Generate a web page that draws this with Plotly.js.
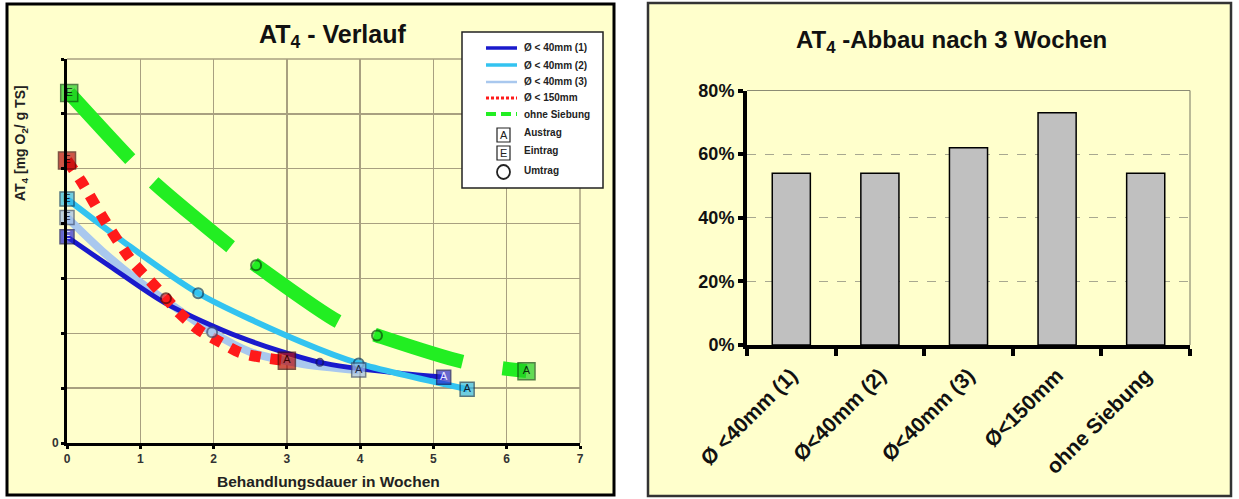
<!DOCTYPE html>
<html><head><meta charset="utf-8">
<script src="https://cdn.plot.ly/plotly-3.0.1.min.js"></script>
<style>html,body{margin:0;padding:0;background:#fff}#chart{width:1239px;height:499px}</style>
</head><body><div id="chart"></div>
<script>
// ---------- Left chart: AT4 - Verlauf (x = weeks, y = grid units) ----------
const seriesNames = ["Ø < 40mm (1)", "Ø < 40mm (2)", "Ø < 40mm (3)", "Ø < 150mm", "ohne Siebung"];

const curve1X = [0, 0.61, 1.34, 2.36, 3.45, 4.54, 5.14];
const curve1Y = [3.76, 3.2, 2.55, 1.93, 1.47, 1.27, 1.2];

const curve2X = [0, 0.75, 1.79, 3.2, 3.98, 5.46];
const curve2Y = [4.45, 3.69, 2.73, 1.84, 1.45, 0.98];

const curve3X = [0, 0.52, 0.97, 1.98, 2.5, 3.18, 3.98];
const curve3Y = [4.11, 3.45, 2.96, 2.02, 1.66, 1.45, 1.33];

const curve150X = [0, 0.19, 0.53, 0.9, 1.13, 1.35, 1.54, 1.81, 2.09, 2.36, 2.66, 3.0];
const curve150Y = [5.15, 4.78, 4.02, 3.29, 2.96, 2.64, 2.36, 2.05, 1.84, 1.65, 1.56, 1.5];

const curveOhneX = [0.03, 0.86, 1.2, 2.25, 2.58, 3.72, 4.23, 5.43, 6.27];
const curveOhneY = [6.38, 5.18, 4.73, 3.56, 3.24, 2.2, 1.96, 1.47, 1.31];

// Eintrag (E) points, order: (1), (2), (3), 150mm, ohne
const eintragX = [0, 0, 0, 0, 0.03];
const eintragY = [3.76, 4.45, 4.11, 5.15, 6.38];
// Austrag (A) points
const austragX = [5.14, 5.46, 3.98, 3.0, 6.27];
const austragY = [1.2, 0.98, 1.33, 1.5, 1.31];
// Umtrag (O) points
const umtragX = [3.45, 1.79, 3.98, 1.98, 1.35, 2.58, 4.23];
const umtragY = [1.47, 2.73, 1.45, 2.02, 2.64, 3.24, 1.96];
const umtragSeries = [0, 1, 1, 2, 3, 4, 4];

const yTickVals = [0, 1, 2, 3, 4, 5, 6, 7];
const yTickText = ["0", "", "", "", "", "", "", ""];
const xTickVals = [0, 1, 2, 3, 4, 5, 6, 7];

// ---------- Right chart: AT4 -Abbau nach 3 Wochen ----------
const barCategories = ["Ø <40mm (1)", "Ø<40mm (2)", "Ø<40mm (3)", "Ø<150mm", "ohne Siebung"];
const barValues = [0.54, 0.54, 0.62, 0.73, 0.54];
const barTickVals = [0, 0.2, 0.4, 0.6, 0.8];

// ---------- styles ----------
const lineColors = ["#1a1acc", "#33c3f0", "#a9c8ee", "#ff1a1a", "#22ee22"];
const markFill   = ["#2a2ad0", "#33b8e8", "#a0bde6", "#b81010", "#22cc22"];
const markLine   = ["#101060", "#104060", "#405070", "#4a0a0a", "#0d4d0d"];
const letterCol  = ["#e8e8ff", "#102030", "#202840", "#3a0000", "#0a300a"];
const FONT = "Liberation Sans, Arial, sans-serif";
const W = 1239, H = 499;
const px = v => v / W;
const py = v => 1 - v / H;

const traces = [];
// curve order: pale(3), dark(1), cyan(2), red, green
traces.push({x: curve3X, y: curve3Y, mode: "lines", line: {color: lineColors[2], width: 8, shape: "spline", smoothing: 0.8}, xaxis: "x", yaxis: "y", hoverinfo: "skip"});
traces.push({x: curve1X, y: curve1Y, mode: "lines", line: {color: lineColors[0], width: 5, shape: "spline", smoothing: 0.8}, xaxis: "x", yaxis: "y", hoverinfo: "skip"});
traces.push({x: curve2X, y: curve2Y, mode: "lines", line: {color: lineColors[1], width: 6, shape: "spline", smoothing: 0.8}, xaxis: "x", yaxis: "y", hoverinfo: "skip"});
traces.push({x: curve150X, y: curve150Y, mode: "lines", line: {color: lineColors[3], width: 11, shape: "spline", smoothing: 0.8, dash: "11px,10px"}, xaxis: "x", yaxis: "y", hoverinfo: "skip"});
traces.push({x: curveOhneX, y: curveOhneY, mode: "lines", line: {color: lineColors[4], width: 14, shape: "spline", smoothing: 0.8, dash: "90px,33px,100px,29px,102px,39px,92px,41px,300px"}, xaxis: "x", yaxis: "y", hoverinfo: "skip"});

// Umtrag circles
traces.push({x: umtragX, y: umtragY, mode: "markers", xaxis: "x", yaxis: "y", hoverinfo: "skip",
  marker: {symbol: "circle", size: [7, 10, 10, 10, 10, 10, 10], color: umtragSeries.map(i => lineColors[i]), line: {color: umtragSeries.map(i => markLine[i]), width: 2}}});
// Eintrag / Austrag squares with letters
const sqSizes = [14, 14, 14, 17, 17];
traces.push({x: eintragX, y: eintragY, mode: "markers+text", text: eintragX.map(() => "E"), textposition: "middle center",
  textfont: {family: FONT, size: 11, color: letterCol}, xaxis: "x", yaxis: "y", hoverinfo: "skip", cliponaxis: false,
  marker: {symbol: "square", size: sqSizes, color: markFill, line: {color: markLine, width: 1.5}}});
traces.push({x: austragX, y: austragY, mode: "markers+text", text: austragX.map(() => "A"), textposition: "middle center",
  textfont: {family: FONT, size: 11, color: letterCol}, xaxis: "x", yaxis: "y", hoverinfo: "skip", cliponaxis: false,
  marker: {symbol: "square", size: sqSizes, color: markFill, line: {color: markLine, width: 1.5}}});

// Bars
traces.push({type: "bar", x: barCategories, y: barValues, xaxis: "x2", yaxis: "y2", width: 0.43,
  marker: {color: "#c0c0c0", line: {color: "#000", width: 1.5}}, hoverinfo: "skip"});

const shapes = [
  // panel backgrounds
  {type: "rect", xref: "paper", yref: "paper", x0: px(7), x1: px(614), y0: py(495), y1: py(4), fillcolor: "#FFFFCC", line: {width: 0}, layer: "below"},
  {type: "rect", xref: "paper", yref: "paper", x0: px(648), x1: px(1231), y0: py(496), y1: py(3), fillcolor: "#FFFFCC", line: {width: 0}, layer: "below"},
  // left plot top/right grid border
  {type: "line", xref: "x domain", yref: "y domain", x0: 0, x1: 1, y0: 1, y1: 1, line: {color: "#a8a080", width: 1.5}, layer: "below"},
  {type: "line", xref: "x domain", yref: "y domain", x0: 1, x1: 1, y0: 0, y1: 1, line: {color: "#a8a080", width: 1.5}, layer: "below"},
  // right plot top/right border
  {type: "line", xref: "x2 domain", yref: "y2 domain", x0: 0, x1: 1, y0: 1, y1: 1, line: {color: "#8c8c74", width: 1.2}, layer: "below"},
  {type: "line", xref: "x2 domain", yref: "y2 domain", x0: 1, x1: 1, y0: 0, y1: 1, line: {color: "#8c8c74", width: 1.2}, layer: "below"},
  // panel borders
  {type: "rect", xref: "paper", yref: "paper", x0: px(7), x1: px(614), y0: py(495), y1: py(4), line: {color: "#000", width: 3}, layer: "above"},
  {type: "rect", xref: "paper", yref: "paper", x0: px(648), x1: px(1231), y0: py(496), y1: py(3), line: {color: "#333", width: 2.5}, layer: "above"},
  // legend box
  {type: "rect", xref: "paper", yref: "paper", x0: px(462), x1: px(603), y0: py(188), y1: py(32), fillcolor: "#ffffff", line: {color: "#222", width: 1.5}, layer: "above"}
];
const annotations = [
  {xref: "paper", yref: "paper", x: px(333), y: py(36), text: "<b>AT<sub>4</sub> - Verlauf</b>", showarrow: false, xanchor: "center", yanchor: "middle", font: {family: FONT, size: 25, color: "#111"}},
  {xref: "paper", yref: "paper", x: px(951), y: py(42), text: "<b>AT<sub>4</sub> -Abbau nach 3 Wochen</b>", showarrow: false, xanchor: "center", yanchor: "middle", font: {family: FONT, size: 24, color: "#111"}},
  {xref: "paper", yref: "paper", x: px(21), y: py(143), text: "<b>AT<sub>4</sub> [mg O<sub>2</sub>/ g TS]</b>", textangle: -90, showarrow: false, xanchor: "center", yanchor: "middle", font: {family: FONT, size: 14, color: "#222"}},
  {xref: "paper", yref: "paper", x: px(328), y: py(481), text: "<b>Behandlungsdauer in Wochen</b>", showarrow: false, xanchor: "center", yanchor: "middle", font: {family: FONT, size: 15.5, color: "#222"}}
];
// legend entries (lines)
const legRows = [48, 65, 82, 98, 114];
const legWidths = [3.5, 3.5, 2.5, 3, 4];
const legDash = ["solid", "solid", "solid", "3px,2px", "10px,5px"];
legRows.forEach((yy, i) => {
  shapes.push({type: "line", xref: "paper", yref: "paper", x0: px(486), x1: px(517), y0: py(yy), y1: py(yy), line: {color: lineColors[i], width: legWidths[i], dash: legDash[i]}, layer: "above"});
  annotations.push({xref: "paper", yref: "paper", x: px(522), y: py(yy), text: "<b>" + seriesNames[i] + "</b>", showarrow: false, xanchor: "left", yanchor: "middle", font: {family: FONT, size: 10, color: "#222"}});
});
// legend entries (markers)
const legMarkRows = [135, 153, 172];
const legMarkNames = ["Austrag", "Eintrag", "Umtrag"];
const legLetters = ["A", "E", ""];
legMarkRows.forEach((yy, i) => {
  if (i < 2) {
    shapes.push({type: "rect", xref: "paper", yref: "paper", x0: px(497), x1: px(510), y0: py(yy + 7), y1: py(yy - 7), fillcolor: "#fff", line: {color: "#222", width: 1.2}, layer: "above"});
    annotations.push({xref: "paper", yref: "paper", x: px(503.5), y: py(yy), text: legLetters[i], showarrow: false, xanchor: "center", yanchor: "middle", font: {family: FONT, size: 11, color: "#222"}});
  } else {
    shapes.push({type: "circle", xref: "paper", yref: "paper", x0: px(497), x1: px(510), y0: py(yy + 7), y1: py(yy - 7), fillcolor: "#fff", line: {color: "#222", width: 1.8}, layer: "above"});
  }
  annotations.push({xref: "paper", yref: "paper", x: px(522), y: py(yy - 2), text: "<b>" + legMarkNames[i] + "</b>", showarrow: false, xanchor: "left", yanchor: "middle", font: {family: FONT, size: 10, color: "#222"}});
});

const layout = {
  width: W, height: H, autosize: false,
  margin: {l: 0, r: 0, t: 0, b: 0, pad: 0},
  paper_bgcolor: "#ffffff", plot_bgcolor: "#FFFFCC",
  showlegend: false,
  font: {family: FONT, color: "#222"},
  xaxis: {domain: [px(67), px(580)], range: [0, 7], tickvals: xTickVals, showgrid: true, gridcolor: "#a8a080", gridwidth: 1.5,
    zeroline: false, showline: true, linecolor: "#000", linewidth: 3, ticks: "outside", ticklen: 3, tickwidth: 3, tickcolor: "#000",
    tickfont: {family: FONT, size: 12, color: "#333", weight: "bold"}, automargin: false, fixedrange: true},
  yaxis: {domain: [py(443), py(59)], range: [0, 7], tickvals: yTickVals, ticktext: yTickText, showgrid: true, gridcolor: "#a8a080", gridwidth: 1.5,
    zeroline: false, showline: true, linecolor: "#000", linewidth: 3, ticks: "outside", ticklen: 3, tickwidth: 3, tickcolor: "#000",
    tickfont: {family: FONT, size: 12, color: "#333", weight: "bold"}, automargin: false, fixedrange: true},
  xaxis2: {domain: [px(747), px(1190)], type: "category", showgrid: false, zeroline: false, showline: true, linecolor: "#000", linewidth: 4,
    ticks: "outside", tickson: "boundaries", ticklen: 7, tickwidth: 4, tickcolor: "#000", tickangle: -45, anchor: "y2", ticklabelstandoff: 6,
    tickfont: {family: FONT, size: 21, color: "#111", weight: "bold"}, automargin: false, fixedrange: true},
  yaxis2: {domain: [py(345), py(90.5)], range: [0, 0.8], tickvals: barTickVals, tickformat: ".0%", showgrid: true, gridcolor: "#a8a890",
    gridwidth: 1, griddash: "dash", zeroline: false, showline: true, linecolor: "#000", linewidth: 4, ticks: "outside", ticklen: 5,
    tickwidth: 4, tickcolor: "#000", anchor: "x2", tickfont: {family: FONT, size: 18, color: "#111", weight: "bold"}, automargin: false, fixedrange: true},
  shapes: shapes,
  annotations: annotations
};
Plotly.newPlot("chart", traces, layout, {staticPlot: true, displayModeBar: false});
</script></body></html>
